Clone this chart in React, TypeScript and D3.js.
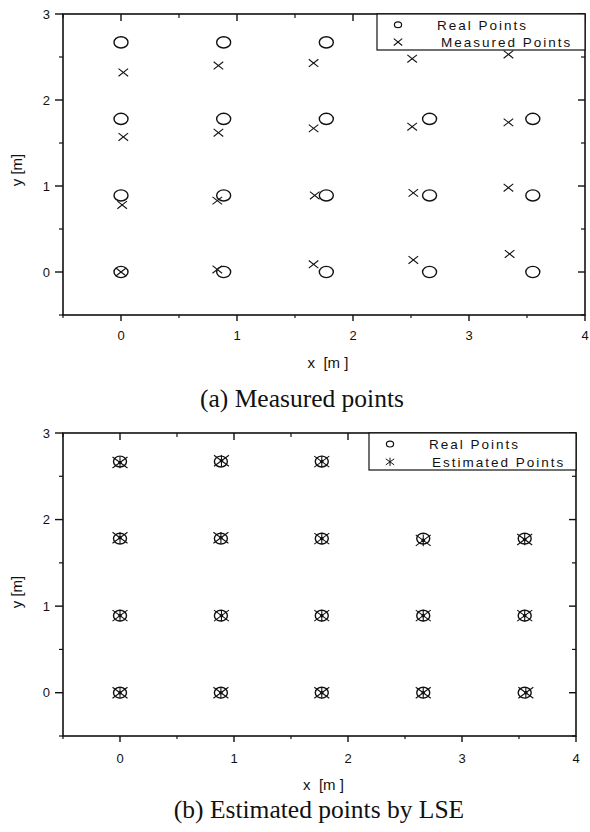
import React from "react";
import * as d3 from "d3";

// ---- data ----
const realX = [0, 0.885, 1.77, 0, 0.885, 1.77, 2.66, 3.55, 0, 0.885, 1.77, 2.66, 3.55, 0, 0.885, 1.77, 2.66, 3.55];
const realY = [2.67, 2.67, 2.67, 1.78, 1.78, 1.78, 1.78, 1.78, 0.89, 0.89, 0.89, 0.89, 0.89, 0, 0, 0, 0, 0];

const measuredX = [0.02, 0.84, 1.66, 2.51, 3.34, 0.02, 0.84, 1.66, 2.51, 3.34, 0.01, 0.83, 1.67, 2.52, 3.34, 0.0, 0.83, 1.66, 2.52, 3.35];
const measuredY = [2.32, 2.4, 2.43, 2.48, 2.53, 1.57, 1.62, 1.67, 1.69, 1.74, 0.78, 0.83, 0.89, 0.92, 0.98, 0.0, 0.03, 0.09, 0.14, 0.21];

const estimatedX = [0.0, 0.89, 1.77, 0.0, 0.885, 1.77, 2.66, 3.55, 0.0, 0.89, 1.77, 2.66, 3.55, 0.0, 0.885, 1.77, 2.66, 3.56];
const estimatedY = [2.66, 2.68, 2.67, 1.79, 1.79, 1.78, 1.76, 1.77, 0.89, 0.89, 0.89, 0.89, 0.89, 0.0, 0.0, 0.0, 0.0, 0.0];

const xMajorTicks = [0, 1, 2, 3, 4];
const yMajorTicks = [0, 1, 2, 3];
const xMinorTicks = [-0.5, 0.5, 1.5, 2.5, 3.5];
const yMinorTicks = [-0.5, 0.5, 1.5, 2.5];

const xLabel = "x  [m ]";
const yLabel = "y [m]";
const legendReal = "Real Points";
const legendMeasured = "Measured Points";
const legendEstimated = "Estimated Points";
const captionA = "(a) Measured points";
const captionB = "(b) Estimated points by LSE";

const INK = "#111";
const SANS = "'Liberation Sans', Arial, sans-serif";
const SERIF = "'Liberation Serif', 'Times New Roman', serif";

function Ring({ x, y, rx = 7, ry = 5.6, w = 1.4 }: any) {
  return <ellipse cx={x} cy={y} rx={rx} ry={ry} fill="none" stroke={INK} strokeWidth={w} />;
}
function Cross({ x, y, s = 4.8, t = 3.8 }: any) {
  return (
    <g stroke={INK} strokeWidth={1.1}>
      <line x1={x - s} y1={y - t} x2={x + s} y2={y + t} />
      <line x1={x - s} y1={y + t} x2={x + s} y2={y - t} />
    </g>
  );
}
function Star({ x, y, s = 7.5, t = 5.5, v = 5.8, dot = true, w = 1.1 }: any) {
  return (
    <g stroke={INK} strokeWidth={w}>
      <line x1={x - s} y1={y - t} x2={x + s} y2={y + t} />
      <line x1={x - s} y1={y + t} x2={x + s} y2={y - t} />
      <line x1={x} y1={y - v} x2={x} y2={y + v} />
      {dot && <circle cx={x} cy={y} r={1.8} fill={INK} stroke="none" />}
    </g>
  );
}

function Panel({ left, right, top, bottom, mode, legend, xLabelY, tickLabelY, yLabelY, caption, captionX, captionY }: any) {
  const x = d3.scaleLinear().domain([-0.5, 4]).range([left, right]);
  const y = d3.scaleLinear().domain([-0.5, 3]).range([bottom, top]);
  const maj = 7;
  const min = 4;
  return (
    <g>
      <rect x={left} y={top} width={right - left} height={bottom - top} fill="none" stroke={INK} strokeWidth={1.6} />
      {xMajorTicks.map((t) => (
        <line key={"bx" + t} x1={x(t)} x2={x(t)} y1={bottom} y2={bottom + maj - 1} stroke={INK} strokeWidth={1.4} />
      ))}
      {xMinorTicks.map((t) => (
        <line key={"bxm" + t} x1={x(t)} x2={x(t)} y1={bottom} y2={bottom + min - 1} stroke={INK} strokeWidth={1.2} />
      ))}
      {xMajorTicks.map((t) => (
        <line key={"tx" + t} x1={x(t)} x2={x(t)} y1={top} y2={top + maj} stroke={INK} strokeWidth={1.4} />
      ))}
      {xMinorTicks.map((t) => (
        <line key={"txm" + t} x1={x(t)} x2={x(t)} y1={top} y2={top + min} stroke={INK} strokeWidth={1.2} />
      ))}
      {yMajorTicks.map((t) => (
        <line key={"ly" + t} x1={left - maj - 1} x2={left} y1={y(t)} y2={y(t)} stroke={INK} strokeWidth={1.4} />
      ))}
      {yMinorTicks.map((t) => (
        <line key={"lym" + t} x1={left - min} x2={left} y1={y(t)} y2={y(t)} stroke={INK} strokeWidth={1.2} />
      ))}
      {yMajorTicks.map((t) => (
        <line key={"ry" + t} x1={right - maj} x2={right} y1={y(t)} y2={y(t)} stroke={INK} strokeWidth={1.4} />
      ))}
      {yMinorTicks.map((t) => (
        <line key={"rym" + t} x1={right - min} x2={right} y1={y(t)} y2={y(t)} stroke={INK} strokeWidth={1.2} />
      ))}
      {xMajorTicks.map((t) => (
        <text key={"xl" + t} x={x(t)} y={tickLabelY} textAnchor="middle" fontFamily={SANS} fontSize={13} fill={INK}>
          {t}
        </text>
      ))}
      {yMajorTicks.map((t) => (
        <text key={"yl" + t} x={left - 13} y={y(t) + 4.7} textAnchor="end" fontFamily={SANS} fontSize={13} fill={INK}>
          {t}
        </text>
      ))}
      <text x={(left + right) / 2 + 4} y={xLabelY} textAnchor="middle" fontFamily={SANS} fontSize={15} fill={INK} style={{ whiteSpace: "pre" }}>
        {xLabel}
      </text>
      <text transform={`translate(22,${yLabelY}) rotate(-90)`} textAnchor="middle" fontFamily={SANS} fontSize={15} fill={INK}>
        {yLabel}
      </text>
      {mode === "measured" ? (
        <g>
          {realX.map((v, i) => (
            <Ring key={"r" + i} x={x(v)} y={y(realY[i])} />
          ))}
          {measuredX.map((v, i) => (
            <Cross key={"m" + i} x={x(v)} y={y(measuredY[i])} />
          ))}
        </g>
      ) : (
        <g>
          {realX.map((v, i) => (
            <Ring key={"r" + i} x={x(v)} y={y(realY[i])} rx={6.5} ry={5.4} />
          ))}
          {estimatedX.map((v, i) => (
            <Star key={"e" + i} x={x(v)} y={y(estimatedY[i])} />
          ))}
        </g>
      )}
      <g>
        <rect x={legend.x} y={top} width={right - legend.x} height={legend.h} fill="#fff" stroke={INK} strokeWidth={1.2} />
        <Ring x={legend.x + 21} y={top + legend.h * 0.3} rx={3.6} ry={2.9} w={1.2} />
        {mode === "measured" ? (
          <Cross x={legend.x + 21} y={top + legend.h * 0.78} s={4.2} t={3.4} />
        ) : (
          <Star x={legend.x + 21} y={top + legend.h * 0.78} s={4.2} t={3} v={4.2} dot={false} w={1} />
        )}
        <text x={legend.x + legend.tx1} y={top + legend.h * 0.3 + 4.8} fontFamily={SANS} fontSize={13.5} letterSpacing={2} fill={INK}>
          {legendReal}
        </text>
        <text x={legend.x + legend.tx2} y={top + legend.h * 0.78 + 4.8} fontFamily={SANS} fontSize={13.5} letterSpacing={2} fill={INK}>
          {mode === "measured" ? legendMeasured : legendEstimated}
        </text>
      </g>
      <text x={captionX} y={captionY} textAnchor="middle" fontFamily={SERIF} fontSize={25.5} fill={INK}>
        {caption}
      </text>
    </g>
  );
}

export default function App() {
  return (
    <svg width={590} height={832} viewBox="0 0 590 832" style={{ position: "absolute", left: 0, top: 0, background: "#fff" }}>
      <rect x={0} y={0} width={590} height={832} fill="#fff" />
      <Panel
        left={63}
        right={585}
        top={14}
        bottom={315}
        mode="measured"
        legend={{ x: 377, h: 36, tx1: 60, tx2: 64 }}
        tickLabelY={340}
        xLabelY={368}
        yLabelY={170}
        caption={captionA}
        captionX={302}
        captionY={407}
      />
      <Panel
        left={63}
        right={576}
        top={433}
        bottom={736}
        mode="estimated"
        legend={{ x: 369, h: 37, tx1: 60, tx2: 63 }}
        tickLabelY={763}
        xLabelY={790}
        yLabelY={592}
        caption={captionB}
        captionX={319}
        captionY={818}
      />
    </svg>
  );
}
